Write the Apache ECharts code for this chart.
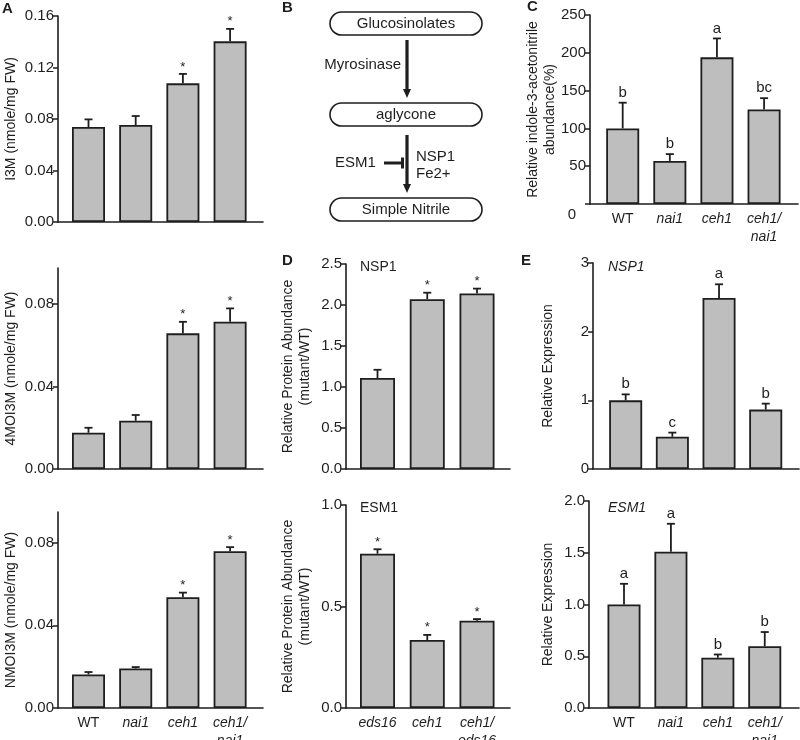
<!DOCTYPE html>
<html>
<head>
<meta charset="utf-8">
<script src="https://cdn.jsdelivr.net/npm/echarts@6/dist/echarts.min.js"></script>
<style>
html, body { margin: 0; padding: 0; background: #fff; }
#fig { width: 800px; height: 740px; }
</style>
</head>
<body>
<div id="fig"></div>
<script>
const FONT = "'Liberation Sans', Arial, Helvetica, sans-serif"
const INK = '#1e1e1e'
const BAR = '#bebebe'

// categories
const genotypes = ['WT', 'nai1', 'ceh1', 'ceh1/\nnai1']
const proteinLines = ['eds16', 'ceh1', 'ceh1/\neds16']

// A: glucosinolates (nmole/mg FW), mean and upper error
const i3m = [0.0738, 0.0753, 0.1077, 0.1403]
const i3mErr = [0.0059, 0.0070, 0.0073, 0.0097]
const moi4 = [0.0176, 0.0234, 0.0658, 0.0714]
const moi4Err = [0.0024, 0.0028, 0.0056, 0.0065]
const nmoi = [0.0162, 0.0191, 0.0536, 0.0758]
const nmoiErr = [0.0012, 0.0007, 0.0022, 0.0020]
const starsA = ['', '', '*', '*']

// C: relative indole-3-acetonitrile abundance (%)
const ian = [100, 57, 194, 125]
const ianErr = [34, 9, 25, 15]
const ianGroups = ['b', 'b', 'a', 'bc']

// D: relative protein abundance (mutant/WT)
const nspProt = [1.11, 2.07, 2.14]
const nspProtErr = [0.10, 0.08, 0.06]
const esmProt = [0.76, 0.335, 0.43]
const esmProtErr = [0.022, 0.025, 0.008]
const starsNsp = ['', '*', '*']
const starsEsm = ['*', '*', '*']

// E: relative expression
const nspExpr = [1.0, 0.47, 2.49, 0.865]
const nspExprErr = [0.087, 0.06, 0.2, 0.087]
const nspGroups = ['b', 'c', 'a', 'b']
const esmExpr = [1.0, 1.51, 0.485, 0.596]
const esmExprErr = [0.2, 0.27, 0.032, 0.138]
const esmGroups = ['a', 'a', 'b', 'b']

// tick values
const ticksA = [0, 0.04, 0.08, 0.12, 0.16]
const ticksAlow = [0, 0.04, 0.08]
const ticksC = [0, 50, 100, 150, 200, 250]
const labelsC = [50, 100, 150, 200, 250]
const ticksD1 = [0, 0.5, 1, 1.5, 2, 2.5]
const ticksD2 = [0, 0.5, 1]
const ticksE1 = [0, 1, 2, 3]
const ticksE2 = [0, 0.5, 1, 1.5, 2]

const panels = [
  { rect: [58, 16, 205, 206], x: [-0.646, 3.697], yMax: 0.16, ticks: ticksA, dec: 2,
    vals: i3m, errs: i3mErr, marks: starsA, star: true, barW: 33,
    name: 'I3M (nmole/mg FW)', gap: 38 },
  { rect: [58, 268, 205, 201], x: [-0.646, 3.697], yMax: 0.0975, ticks: ticksAlow, dec: 2,
    vals: moi4, errs: moi4Err, marks: starsA, star: true, barW: 33,
    name: '4MOI3M (nmole/mg FW)', gap: 38 },
  { rect: [58, 512, 205, 196], x: [-0.646, 3.697], yMax: 0.0948, ticks: ticksAlow, dec: 2,
    vals: nmoi, errs: nmoiErr, marks: starsA, star: true, barW: 33, cats: genotypes,
    name: 'NMOI3M (nmole/mg FW)', gap: 38 },
  { rect: [590, 15, 208, 189], x: [-0.694, 3.72], yMax: 250, ticks: ticksC, labels: labelsC, dec: 0,
    vals: ian, errs: ianErr, marks: ianGroups, barW: 33, cats: genotypes,
    name: 'Relative indole-3-acetonitrile\nabundance(%)', gap: 31 },
  { rect: [346, 264, 164, 205], x: [-0.633, 2.663], yMax: 2.5, ticks: ticksD1, dec: 1,
    vals: nspProt, errs: nspProtErr, marks: starsNsp, star: true, barW: 35,
    name: 'Relative Protein Abundance\n(mutant/WT)', gap: 32 },
  { rect: [346, 505, 164, 203], x: [-0.633, 2.663], yMax: 1.0, ticks: ticksD2, dec: 1,
    vals: esmProt, errs: esmProtErr, marks: starsEsm, star: true, barW: 35, cats: proteinLines,
    name: 'Relative Protein Abundance\n(mutant/WT)', gap: 32 },
  { rect: [593, 263, 206, 206], x: [-0.70, 3.713], yMax: 3, ticks: ticksE1, dec: 0,
    vals: nspExpr, errs: nspExprErr, marks: nspGroups, barW: 33,
    name: 'Relative Expression', gap: 36 },
  { rect: [589, 501, 210, 207], x: [-0.746, 3.73], yMax: 2.0, ticks: ticksE2, dec: 1,
    vals: esmExpr, errs: esmExprErr, marks: esmGroups, barW: 33, cats: genotypes,
    name: 'Relative Expression', gap: 32 }
]

const catText = (name) => name === 'WT'
  ? '{n|WT}'
  : name.split('\n').map(s => '{i|' + s + '}').join('\n')

const grid = []
const xAxis = []
const yAxis = []
const series = []

panels.forEach((p, k) => {
  grid.push({
    left: p.rect[0], top: p.rect[1], width: p.rect[2], height: p.rect[3],
    containLabel: false, outerBoundsMode: 'none'
  })
  xAxis.push({
    gridIndex: k, type: 'value', min: p.x[0], max: p.x[1],
    axisLine: { show: true, onZero: false, lineStyle: { color: INK, width: 1.6 } },
    axisTick: { show: false },
    splitLine: { show: false },
    axisLabel: p.cats ? {
      show: true,
      customValues: p.cats.map((_, i) => i),
      formatter: (v) => catText(p.cats[Math.round(v)]),
      margin: 6,
      hideOverlap: false,
      rich: {
        i: { fontFamily: FONT, fontSize: 14, fontStyle: 'italic', color: INK, lineHeight: 18 },
        n: { fontFamily: FONT, fontSize: 14, color: INK, lineHeight: 18 }
      }
    } : { show: false }
  })
  yAxis.push({
    gridIndex: k, type: 'value', min: 0, max: p.yMax,
    name: p.name, nameLocation: 'middle', nameRotate: 90, nameGap: p.gap,
    nameMoveOverlap: false,
    nameTextStyle: { fontFamily: FONT, fontSize: 14, color: INK, lineHeight: 17 },
    axisLine: { show: true, onZero: false, lineStyle: { color: INK, width: 1.6 } },
    axisTick: { show: true, inside: false, length: 5, customValues: p.ticks,
      lineStyle: { color: INK, width: 1.5 } },
    axisLabel: { customValues: p.labels || p.ticks, formatter: (v) => v.toFixed(p.dec),
      fontFamily: FONT, fontSize: 15, color: INK, margin: 4, hideOverlap: false },
    splitLine: { show: false }
  })
  series.push({
    type: 'bar', xAxisIndex: k, yAxisIndex: k, barWidth: p.barW,
    data: p.vals.map((v, i) => [i, v]),
    itemStyle: { color: BAR, borderColor: INK, borderWidth: 1.8 },
    silent: true
  })
  series.push({
    type: 'custom', xAxisIndex: k, yAxisIndex: k, z: 5, silent: true,
    data: p.vals.map((v, i) => [i, v, v + p.errs[i]]),
    encode: { x: 0, y: [1, 2] },
    renderItem: (params, api) => {
      const i = api.value(0)
      const base = api.coord([i, api.value(1)])
      const top = api.coord([i, api.value(2)])
      const line = { stroke: INK, lineWidth: 1.8 }
      const children = [
        { type: 'line', shape: { x1: base[0], y1: base[1], x2: top[0], y2: top[1] }, style: line },
        { type: 'line', shape: { x1: top[0] - 4, y1: top[1], x2: top[0] + 4, y2: top[1] }, style: line }
      ]
      const m = p.marks[params.dataIndex]
      if (m) {
        children.push({
          type: 'text', x: top[0], y: top[1] - (p.star ? 7 : 10),
          style: {
            text: m, fill: INK, align: 'center', verticalAlign: 'middle',
            font: (p.star ? '13px ' : '15px ') + FONT
          }
        })
      }
      return { type: 'group', children }
    }
  })
})

// text helpers for panel letters, panel B scheme and inset titles
const txt = (text, x, y, opts = {}) => ({
  type: 'text', x, y, silent: true,
  style: Object.assign({ text, fill: INK, font: '15px ' + FONT, align: 'left', verticalAlign: 'middle' }, opts)
})
const pill = (x, y, w, h, label) => ([
  { type: 'rect', silent: true, shape: { x, y, width: w, height: h, r: h / 2 },
    style: { fill: 'none', stroke: INK, lineWidth: 1.6 } },
  txt(label, x + w / 2, y + h / 2 + 0.5, { align: 'center' })
])
const arrow = (x, y1, y2) => ([
  { type: 'line', silent: true, shape: { x1: x, y1, x2: x, y2: y2 - 7 },
    style: { stroke: INK, lineWidth: 3.2 } },
  { type: 'polygon', silent: true, shape: { points: [[x - 4, y2 - 9], [x + 4, y2 - 9], [x, y2]] },
    style: { fill: INK } }
])

const graphic = [
  txt('A', 2, 9, { font: 'bold 15px ' + FONT }),
  txt('B', 282, 8, { font: 'bold 15px ' + FONT }),
  txt('C', 527, 7, { font: 'bold 15px ' + FONT }),
  txt('D', 282, 261, { font: 'bold 15px ' + FONT }),
  txt('E', 521, 261, { font: 'bold 15px ' + FONT }),
  ...pill(330, 12, 152, 23, 'Glucosinolates'),
  ...pill(330, 103, 152, 23, 'aglycone'),
  ...pill(330, 198, 152, 23, 'Simple Nitrile'),
  ...arrow(407, 40, 98),
  ...arrow(407, 135, 193),
  txt('Myrosinase', 401, 65, { align: 'right' }),
  txt('ESM1', 335, 163),
  { type: 'line', silent: true, shape: { x1: 384, y1: 163, x2: 402, y2: 163 },
    style: { stroke: INK, lineWidth: 3 } },
  { type: 'line', silent: true, shape: { x1: 402.5, y1: 157.5, x2: 402.5, y2: 168.5 },
    style: { stroke: INK, lineWidth: 3 } },
  txt('NSP1', 416, 157),
  txt('Fe2+', 416, 174),
  txt('0', 572, 215, { align: 'center' }),
  txt('NSP1', 360, 267, { font: '14px ' + FONT }),
  txt('ESM1', 360, 508, { font: '14px ' + FONT }),
  txt('NSP1', 608, 267, { font: 'italic 14px ' + FONT }),
  txt('ESM1', 608, 508, { font: 'italic 14px ' + FONT })
]

const chart = echarts.init(document.getElementById('fig'), null, { renderer: 'canvas' })
chart.setOption({
  animation: false,
  backgroundColor: '#fff',
  textStyle: { fontFamily: FONT },
  grid,
  xAxis,
  yAxis,
  series,
  graphic
})
</script>
</body>
</html>
